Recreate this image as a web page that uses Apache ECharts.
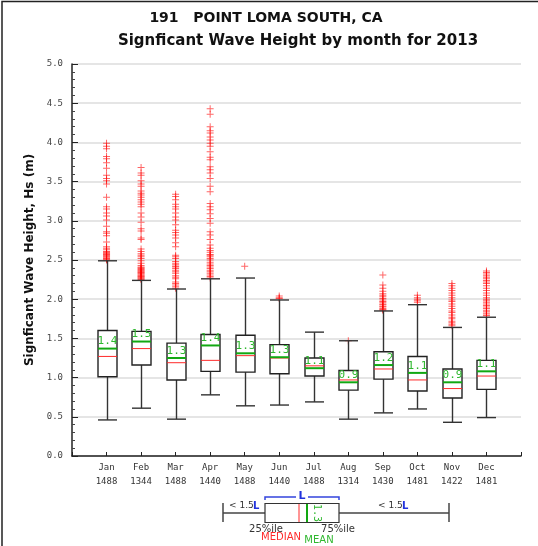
<!DOCTYPE html>
<html>
<head>
<meta charset="utf-8">
<script src="https://cdn.jsdelivr.net/npm/echarts@6/dist/echarts.min.js"></script>
<style>
  html, body { margin: 0; padding: 0; background: #fff; }
  #chart { width: 538px; height: 546px; }
</style>
</head>
<body>
<div id="chart"></div>
<script>
// Monthly significant wave height statistics (m)
const months = ['Jan', 'Feb', 'Mar', 'Apr', 'May', 'Jun', 'Jul', 'Aug', 'Sep', 'Oct', 'Nov', 'Dec'];
const counts = [1488, 1344, 1488, 1440, 1488, 1440, 1488, 1314, 1430, 1481, 1422, 1481];
const lowWhisker  = [0.46, 0.61, 0.47, 0.78, 0.64, 0.65, 0.69, 0.47, 0.55, 0.60, 0.43, 0.49];
const q1          = [1.01, 1.16, 0.97, 1.08, 1.07, 1.05, 1.02, 0.84, 0.98, 0.83, 0.74, 0.85];
const median      = [1.27, 1.37, 1.19, 1.22, 1.28, 1.25, 1.15, 0.97, 1.11, 0.97, 0.86, 1.02];
const q3          = [1.60, 1.59, 1.44, 1.55, 1.54, 1.42, 1.25, 1.09, 1.33, 1.27, 1.11, 1.22];
const highWhisker = [2.49, 2.24, 2.13, 2.26, 2.27, 1.99, 1.58, 1.47, 1.85, 1.93, 1.64, 1.77];
const mean        = [1.37, 1.46, 1.25, 1.41, 1.31, 1.26, 1.12, 0.94, 1.16, 1.06, 0.94, 1.08];

// Values beyond 1.5 IQR, per month
const outJan = [3.99, 3.95, 3.92, 3.82, 3.79, 3.74, 3.67, 3.58, 3.54, 3.51, 3.47, 3.30, 3.18, 3.15, 3.10, 3.06, 3.01, 2.93, 2.86, 2.84, 2.81, 2.73, 2.67, 2.65, 2.63, 2.61, 2.60, 2.59, 2.58, 2.57, 2.56, 2.55, 2.54, 2.53, 2.52, 2.51, 2.50];
const outFeb = [3.68, 3.61, 3.58, 3.51, 3.47, 3.44, 3.38, 3.35, 3.33, 3.30, 3.27, 3.24, 3.21, 3.18, 3.10, 3.05, 2.98, 2.90, 2.87, 2.78, 2.76, 2.64, 2.61, 2.58, 2.56, 2.54, 2.52, 2.49, 2.46, 2.43, 2.41, 2.40, 2.39, 2.38, 2.37, 2.36, 2.35, 2.34, 2.33, 2.32, 2.31, 2.30, 2.29, 2.28, 2.27, 2.26, 2.25];
const outMar = [3.34, 3.31, 3.27, 3.21, 3.18, 3.15, 3.10, 3.05, 3.01, 2.95, 2.88, 2.85, 2.82, 2.78, 2.72, 2.67, 2.56, 2.54, 2.52, 2.48, 2.46, 2.44, 2.42, 2.41, 2.39, 2.37, 2.35, 2.33, 2.30, 2.28, 2.26, 2.22, 2.20, 2.18, 2.16, 2.14];
const outApr = [4.43, 4.36, 4.20, 4.15, 4.12, 4.07, 4.03, 3.99, 3.95, 3.88, 3.81, 3.78, 3.69, 3.65, 3.61, 3.54, 3.44, 3.37, 3.22, 3.18, 3.14, 3.09, 3.03, 2.97, 2.86, 2.82, 2.76, 2.69, 2.65, 2.62, 2.60, 2.57, 2.56, 2.54, 2.52, 2.50, 2.47, 2.45, 2.43, 2.41, 2.39, 2.37, 2.35, 2.33, 2.31, 2.29, 2.27];
const outMay = [2.42];
const outJun = [2.04, 2.02, 2.01];
const outJul = [];
const outAug = [1.47];
const outSep = [2.31, 2.18, 2.14, 2.10, 2.07, 2.05, 2.03, 2.01, 1.99, 1.97, 1.96, 1.94, 1.93, 1.91, 1.90, 1.88, 1.87, 1.86];
const outOct = [2.05, 2.02, 2.00, 1.98, 1.96];
const outNov = [2.20, 2.17, 2.14, 2.11, 2.08, 2.05, 2.02, 1.99, 1.97, 1.94, 1.91, 1.88, 1.85, 1.83, 1.80, 1.77, 1.75, 1.72, 1.70, 1.68, 1.66];
const outDec = [2.36, 2.34, 2.32, 2.30, 2.28, 2.26, 2.24, 2.22, 2.20, 2.17, 2.14, 2.11, 2.08, 2.05, 2.02, 2.00, 1.98, 1.96, 1.94, 1.92, 1.90, 1.88, 1.86, 1.84, 1.82, 1.80, 1.79];
const outliers = [outJan, outFeb, outMar, outApr, outMay, outJun, outJul, outAug, outSep, outOct, outNov, outDec];

// Category slots: an empty slot at each end so months sit on integer positions 1..12
const categories = [''].concat(months, ['']);

const boxData = months.map((m, i) => [i + 1, lowWhisker[i], q1[i], median[i], q3[i], highWhisker[i], mean[i]]);
const outlierData = [];
outliers.forEach((list, i) => list.forEach(v => outlierData.push([i + 1, v])));

const BOX_W = 19;
const MONO = '"DejaVu Sans Mono", monospace';
const SANS = '"DejaVu Sans", sans-serif';

function renderBox(params, api) {
  const x = api.value(0);
  const pLow = api.coord([x, api.value(1)]);
  const pQ1 = api.coord([x, api.value(2)]);
  const pMed = api.coord([x, api.value(3)]);
  const pQ3 = api.coord([x, api.value(4)]);
  const pHigh = api.coord([x, api.value(5)]);
  const pMean = api.coord([x, api.value(6)]);
  const cx = Math.round(pQ1[0]) + 0.5;
  const h = BOX_W / 2;
  const whisk = { stroke: '#333', lineWidth: 1.4 };
  return {
    type: 'group',
    children: [
      { type: 'line', shape: { x1: cx, y1: pQ3[1], x2: cx, y2: pHigh[1] }, style: whisk },
      { type: 'line', shape: { x1: cx, y1: pQ1[1], x2: cx, y2: pLow[1] }, style: whisk },
      { type: 'line', shape: { x1: cx - h, y1: pHigh[1], x2: cx + h, y2: pHigh[1] }, style: whisk },
      { type: 'line', shape: { x1: cx - h, y1: pLow[1], x2: cx + h, y2: pLow[1] }, style: whisk },
      { type: 'rect', shape: { x: cx - h, y: pQ3[1], width: BOX_W, height: pQ1[1] - pQ3[1] },
        style: { fill: '#fff', stroke: '#222', lineWidth: 1.4 } },
      { type: 'line', shape: { x1: cx - h, y1: pMed[1], x2: cx + h, y2: pMed[1] },
        style: { stroke: '#ff2a2a', lineWidth: 1 } },
      { type: 'line', shape: { x1: cx - h, y1: pMean[1], x2: cx + h, y2: pMean[1] },
        style: { stroke: '#12a812', lineWidth: 2 } },
      { type: 'text', x: cx, y: pMean[1] - 1.5,
        style: { text: api.value(6).toFixed(1), fill: '#2fb82f', font: '11px ' + MONO,
                 textAlign: 'center', textVerticalAlign: 'bottom' } }
    ]
  };
}

const chart = echarts.init(document.getElementById('chart'), null, { renderer: 'canvas' });

const legendY = 513;
const option = {
  backgroundColor: '#fff',
  animation: false,
  grid: { left: 72, right: 17, top: 64, bottom: 90 },
  xAxis: {
    type: 'category',
    data: categories,
    boundaryGap: false,
    axisLine: { lineStyle: { color: '#222', width: 1.5 } },
    axisTick: { inside: true, length: 4, interval: 0, lineStyle: { color: '#222' } },
    axisLabel: {
      interval: 0, margin: 5, lineHeight: 14, color: '#333',
      fontFamily: 'DejaVu Sans Mono', fontSize: 9,
      formatter: (v, i) => v ? v + '\n' + counts[i - 1] : ''
    },
    splitLine: { show: false }
  },
  yAxis: {
    type: 'value',
    min: 0, max: 5, interval: 0.5,
    name: 'Signficant Wave Height, Hs (m)',
    nameLocation: 'middle',
    nameGap: 31,
    nameTextStyle: { fontFamily: 'DejaVu Sans', fontWeight: 'bold', fontSize: 12, color: '#111' },
    axisLine: { show: true, lineStyle: { color: '#222', width: 1.5 } },
    axisTick: { show: true, inside: true, length: 6, lineStyle: { color: '#222' } },
    minorTick: { show: true, splitNumber: 5, length: 3, lineStyle: { color: '#444' } },
    axisLabel: { margin: 9, color: '#444', fontFamily: 'DejaVu Sans Mono', fontSize: 9,
                 formatter: v => v.toFixed(1) },
    splitLine: { show: true, lineStyle: { color: '#dcdcdc', width: 1.5 } }
  },
  series: [
    {
      type: 'scatter',
      data: outlierData,
      symbol: 'path://M3,0h1v3h3v1h-3v3h-1v-3h-3v-1h3z',
      symbolSize: 7,
      itemStyle: { color: 'rgba(255,0,0,0.75)' },
      z: 2
    },
    {
      type: 'custom',
      data: boxData,
      renderItem: renderBox,
      encode: { x: 0, y: [1, 2, 3, 4, 5, 6] },
      z: 3
    }
  ],
  graphic: [
    // page frame along the top and left edges
    { type: 'polyline', shape: { points: [[2, 546], [2, 1.5], [538, 1.5]] },
      style: { fill: 'none', stroke: '#222', lineWidth: 1.5 }, silent: true },
    { type: 'text', x: 266, y: 18,
      style: { text: '191   POINT LOMA SOUTH, CA', font: 'bold 14px ' + SANS, fill: '#111',
               textAlign: 'center', textVerticalAlign: 'middle' } },
    { type: 'text', x: 298, y: 41,
      style: { text: 'Signficant Wave Height by month for 2013', font: 'bold 15px ' + SANS, fill: '#111',
               textAlign: 'center', textVerticalAlign: 'middle' } },

    // Key: box-and-whisker explanation
    { type: 'line', shape: { x1: 223, y1: legendY, x2: 265, y2: legendY }, style: { stroke: '#444', lineWidth: 1.5 } },
    { type: 'line', shape: { x1: 339, y1: legendY, x2: 449, y2: legendY }, style: { stroke: '#444', lineWidth: 1.5 } },
    { type: 'line', shape: { x1: 223, y1: 503, x2: 223, y2: 522 }, style: { stroke: '#444', lineWidth: 1.5 } },
    { type: 'line', shape: { x1: 449, y1: 503, x2: 449, y2: 522 }, style: { stroke: '#444', lineWidth: 1.5 } },
    { type: 'rect', shape: { x: 265, y: 503.5, width: 74, height: 19 },
      style: { fill: '#fff', stroke: '#333', lineWidth: 1.2 } },
    { type: 'line', shape: { x1: 299, y1: 504, x2: 299, y2: 522 }, style: { stroke: '#ff2a2a', lineWidth: 1 } },
    { type: 'line', shape: { x1: 307, y1: 504, x2: 307, y2: 522 }, style: { stroke: '#12a812', lineWidth: 2 } },
    { type: 'text', x: 312, y: 504, rotation: -Math.PI / 2,
      style: { text: '1.3', font: '10px ' + MONO, fill: '#2fb82f', textAlign: 'left', textVerticalAlign: 'bottom' } },
    // bracket spanning the box
    { type: 'polyline', shape: { points: [[265, 500], [265, 497], [296, 497]] }, style: { stroke: '#3344dd', lineWidth: 1.5, fill: 'none' } },
    { type: 'polyline', shape: { points: [[308, 497], [339, 497], [339, 500]] }, style: { stroke: '#3344dd', lineWidth: 1.5, fill: 'none' } },
    { type: 'text', x: 302, y: 496,
      style: { text: 'L', font: 'bold 11px ' + SANS, fill: '#2233dd', textAlign: 'center', textVerticalAlign: 'middle' } },
    { type: 'text', x: 229, y: 506,
      style: { text: '< 1.5', font: '9px ' + SANS, fill: '#333', textAlign: 'left', textVerticalAlign: 'middle' } },
    { type: 'text', x: 253, y: 506,
      style: { text: 'L', font: 'bold 10px ' + SANS, fill: '#2233dd', textAlign: 'left', textVerticalAlign: 'middle' } },
    { type: 'text', x: 378, y: 506,
      style: { text: '< 1.5', font: '9px ' + SANS, fill: '#333', textAlign: 'left', textVerticalAlign: 'middle' } },
    { type: 'text', x: 402, y: 506,
      style: { text: 'L', font: 'bold 10px ' + SANS, fill: '#2233dd', textAlign: 'left', textVerticalAlign: 'middle' } },
    { type: 'text', x: 266, y: 529,
      style: { text: '25%ile', font: '10px ' + SANS, fill: '#333', textAlign: 'center', textVerticalAlign: 'middle' } },
    { type: 'text', x: 338, y: 529,
      style: { text: '75%ile', font: '10px ' + SANS, fill: '#333', textAlign: 'center', textVerticalAlign: 'middle' } },
    { type: 'text', x: 281, y: 537,
      style: { text: 'MEDIAN', font: '10px ' + SANS, fill: '#ff2a2a', textAlign: 'center', textVerticalAlign: 'middle' } },
    { type: 'text', x: 319, y: 540,
      style: { text: 'MEAN', font: '10px ' + SANS, fill: '#2fb82f', textAlign: 'center', textVerticalAlign: 'middle' } }
  ]
};

chart.setOption(option);
</script>
</body>
</html>
